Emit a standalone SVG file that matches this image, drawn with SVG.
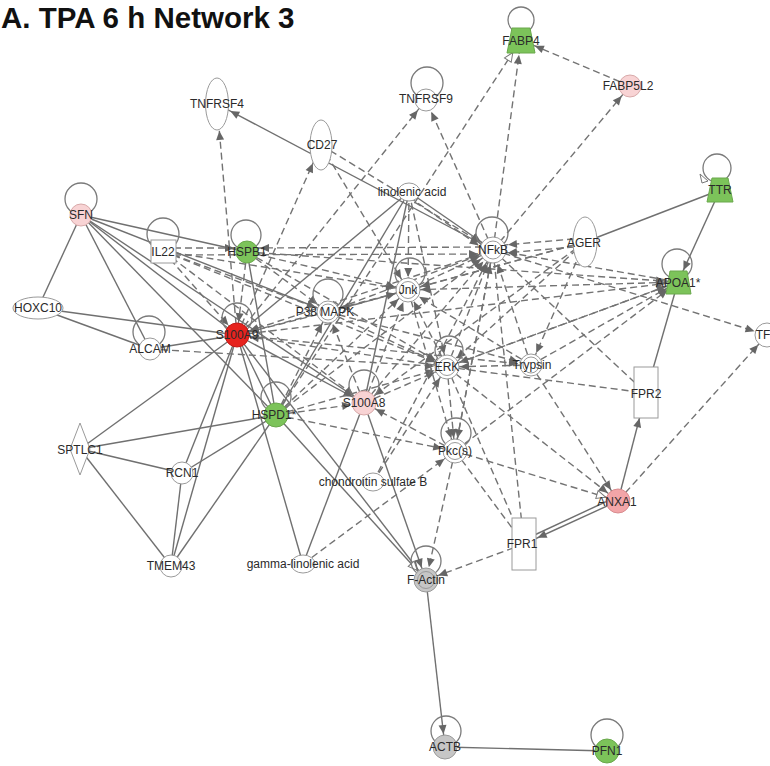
<svg xmlns="http://www.w3.org/2000/svg" width="770" height="766" viewBox="0 0 770 766">
<defs>
<style>
.s{stroke:#707070;stroke-width:1.4;fill:none}
.d{stroke:#737373;stroke-width:1.4;fill:none;stroke-dasharray:7 4}
.loop{fill:none;stroke:#7a7a7a;stroke-width:1.3}
.n{fill:#fff;stroke:#9a9a9a;stroke-width:1}
.g{fill:#7cc35a;stroke:#6aa84c;stroke-width:1}
.p{fill:#f8d3d4;stroke:#d8aaaa;stroke-width:1}
.p2{fill:#f2a5a8;stroke:#d88c8f;stroke-width:1}
.r{fill:#e6231e;stroke:#c41a16;stroke-width:1}
.gr{fill:#c6c6c6;stroke:#9a9a9a;stroke-width:1}
.in{fill:none;stroke:#9a9a9a;stroke-width:1}
.t{font-family:"Liberation Sans",Arial,sans-serif;font-size:12px;fill:#2a2a2a;text-anchor:middle;dominant-baseline:central}
</style>
<marker id="m13" markerUnits="userSpaceOnUse" markerWidth="10" markerHeight="8" refX="22" refY="4" orient="auto" overflow="visible"><path d="M0,0 L9,4 L0,8 z" fill="#666"/></marker>
<marker id="m14" markerUnits="userSpaceOnUse" markerWidth="10" markerHeight="8" refX="24" refY="4" orient="auto" overflow="visible"><path d="M0,0 L9,4 L0,8 z" fill="#666"/></marker>
<marker id="m20" markerUnits="userSpaceOnUse" markerWidth="10" markerHeight="8" refX="29" refY="4" orient="auto" overflow="visible"><path d="M0,0 L9,4 L0,8 z" fill="#666"/></marker>
<marker id="m26" markerUnits="userSpaceOnUse" markerWidth="10" markerHeight="8" refX="35" refY="4" orient="auto" overflow="visible"><path d="M0,0 L9,4 L0,8 z" fill="#666"/></marker>
<marker id="m27" markerUnits="userSpaceOnUse" markerWidth="10" markerHeight="8" refX="36" refY="4" orient="auto" overflow="visible"><path d="M0,0 L9,4 L0,8 z" fill="#666"/></marker>
<marker id="o13" markerUnits="userSpaceOnUse" markerWidth="10" markerHeight="8" refX="22" refY="4" orient="auto" overflow="visible"><path d="M0,0 L9,4 L0,8 z" fill="#fff" stroke="#777" stroke-width="1"/></marker>
<marker id="o14" markerUnits="userSpaceOnUse" markerWidth="10" markerHeight="8" refX="24" refY="4" orient="auto" overflow="visible"><path d="M0,0 L9,4 L0,8 z" fill="#fff" stroke="#777" stroke-width="1"/></marker>
</defs>
<rect width="770" height="766" fill="#fff"/>
<text x="1" y="28" font-family="Liberation Sans,Arial,sans-serif" font-weight="bold" font-size="29.5" fill="#111">A. TPA 6 h Network 3</text>

<g id="connectors">
<line class="s" x1="81" y1="215" x2="38" y2="308"/>
<line class="s" x1="81" y1="215" x2="150" y2="349"/>
<line class="s" x1="81" y1="215" x2="247" y2="252"/>
<line class="s" x1="81" y1="215" x2="328" y2="312"/>
<line class="s" x1="81" y1="215" x2="364" y2="403"/>
<line class="s" x1="81" y1="215" x2="237" y2="335"/>
<line class="s" x1="81" y1="215" x2="276" y2="415"/>
<line class="s" x1="38" y1="308" x2="237" y2="335"/>
<line class="s" x1="38" y1="308" x2="150" y2="349"/>
<line class="s" x1="150" y1="349" x2="237" y2="335"/>
<line class="s" x1="237" y1="335" x2="80" y2="449"/>
<line class="s" x1="237" y1="335" x2="182" y2="473"/>
<line class="s" x1="237" y1="335" x2="171" y2="566"/>
<line class="s" x1="237" y1="335" x2="276" y2="415"/>
<line class="s" x1="237" y1="335" x2="303" y2="564"/>
<line class="s" x1="237" y1="335" x2="426" y2="580" marker-end="url(#m13)"/>
<line class="s" x1="237" y1="335" x2="364" y2="403" marker-end="url(#m13)"/>
<line class="s" x1="237" y1="335" x2="409" y2="192"/>
<line class="s" x1="247" y1="252" x2="276" y2="415"/>
<line class="s" x1="80" y1="449" x2="276" y2="415"/>
<line class="s" x1="80" y1="449" x2="182" y2="473"/>
<line class="s" x1="80" y1="449" x2="171" y2="566"/>
<line class="s" x1="182" y1="473" x2="276" y2="415"/>
<line class="s" x1="182" y1="473" x2="171" y2="566"/>
<line class="s" x1="276" y1="415" x2="171" y2="566"/>
<line class="s" x1="276" y1="415" x2="426" y2="580" marker-end="url(#o13)"/>
<line class="s" x1="364" y1="403" x2="303" y2="564"/>
<line class="s" x1="364" y1="403" x2="426" y2="580" marker-end="url(#m13)"/>
<line class="s" x1="409" y1="192" x2="364" y2="403"/>
<line class="s" x1="409" y1="192" x2="276" y2="415"/>
<line class="s" x1="409" y1="192" x2="493" y2="250" marker-end="url(#m14)"/>
<line class="s" x1="493" y1="250" x2="217" y2="104" marker-end="url(#m14)"/>
<line class="s" x1="720" y1="190" x2="585" y2="242"/>
<line class="s" x1="720" y1="190" x2="678" y2="282" marker-end="url(#m13)"/>
<line class="s" x1="678" y1="282" x2="646" y2="393"/>
<line class="s" x1="618" y1="501" x2="646" y2="393" marker-end="url(#m26)"/>
<line class="s" x1="618" y1="501" x2="524" y2="544" marker-end="url(#m14)"/>
<line class="s" x1="616" y1="497" x2="528" y2="538"/>
<line class="s" x1="426" y1="580" x2="445" y2="747" marker-end="url(#m13)"/>
<line class="s" x1="445" y1="747" x2="607" y2="751"/>
<line class="d" x1="237" y1="335" x2="217" y2="104" marker-end="url(#m27)"/>
<line class="d" x1="237" y1="335" x2="321" y2="145" marker-end="url(#m20)"/>
<line class="d" x1="237" y1="335" x2="426" y2="100" marker-end="url(#m13)"/>
<line class="d" x1="493" y1="250" x2="426" y2="100" marker-end="url(#m13)"/>
<line class="d" x1="276" y1="415" x2="521" y2="40" marker-end="url(#o14)"/>
<line class="d" x1="493" y1="250" x2="521" y2="40" marker-end="url(#m14)"/>
<line class="d" x1="630" y1="86" x2="521" y2="40" marker-end="url(#m14)"/>
<line class="d" x1="493" y1="250" x2="630" y2="86" marker-end="url(#m13)"/>
<line class="d" x1="321" y1="145" x2="493" y2="250" marker-end="url(#m14)"/>
<line class="d" x1="409" y1="197" x2="491" y2="254" marker-end="url(#m14)"/>
<line class="d" x1="321" y1="145" x2="408" y2="290" marker-end="url(#m13)"/>
<line class="d" x1="409" y1="192" x2="408" y2="290" marker-end="url(#m13)"/>
<line class="d" x1="409" y1="192" x2="447" y2="367" marker-end="url(#m13)"/>
<line class="d" x1="163" y1="248" x2="247" y2="248" marker-end="url(#m13)"/>
<line class="d" x1="163" y1="255" x2="493" y2="254" marker-end="url(#m14)"/>
<line class="d" x1="493" y1="247" x2="247" y2="248" marker-end="url(#m13)"/>
<line class="d" x1="163" y1="251" x2="328" y2="312" marker-end="url(#m13)"/>
<line class="d" x1="163" y1="251" x2="408" y2="290" marker-end="url(#m13)"/>
<line class="d" x1="163" y1="251" x2="447" y2="367" marker-end="url(#m13)"/>
<line class="d" x1="163" y1="251" x2="237" y2="335" marker-end="url(#m13)"/>
<line class="d" x1="163" y1="251" x2="364" y2="403" marker-end="url(#m13)"/>
<line class="d" x1="247" y1="252" x2="328" y2="312" marker-end="url(#m13)"/>
<line class="d" x1="247" y1="252" x2="408" y2="290" marker-end="url(#m13)"/>
<line class="d" x1="247" y1="252" x2="447" y2="367" marker-end="url(#m13)"/>
<line class="d" x1="247" y1="252" x2="678" y2="282" marker-end="url(#m13)"/>
<line class="d" x1="247" y1="252" x2="237" y2="335" marker-end="url(#m13)"/>
<line class="d" x1="408" y1="290" x2="237" y2="335" marker-end="url(#m13)"/>
<line class="d" x1="328" y1="312" x2="237" y2="335" marker-end="url(#m13)"/>
<line class="d" x1="493" y1="250" x2="237" y2="335" marker-end="url(#m13)"/>
<line class="d" x1="447" y1="367" x2="237" y2="335" marker-end="url(#m13)"/>
<line class="d" x1="237" y1="335" x2="678" y2="282" marker-end="url(#m13)"/>
<line class="d" x1="237" y1="335" x2="531" y2="365" marker-end="url(#m13)"/>
<line class="d" x1="150" y1="349" x2="447" y2="367" marker-end="url(#m13)"/>
<line class="d" x1="585" y1="238" x2="493" y2="246" marker-end="url(#m14)"/>
<line class="d" x1="585" y1="246" x2="493" y2="254" marker-end="url(#m14)"/>
<line class="d" x1="585" y1="242" x2="408" y2="290" marker-end="url(#m13)"/>
<line class="d" x1="585" y1="242" x2="328" y2="312" marker-end="url(#m13)"/>
<line class="d" x1="585" y1="242" x2="447" y2="367" marker-end="url(#m13)"/>
<line class="d" x1="585" y1="242" x2="364" y2="403" marker-end="url(#m13)"/>
<line class="d" x1="585" y1="242" x2="531" y2="365" marker-end="url(#m13)"/>
<line class="d" x1="678" y1="282" x2="493" y2="250" marker-end="url(#m14)"/>
<line class="d" x1="678" y1="282" x2="408" y2="290" marker-end="url(#m13)"/>
<line class="d" x1="678" y1="282" x2="447" y2="367" marker-end="url(#m13)"/>
<line class="d" x1="493" y1="250" x2="767" y2="335" marker-end="url(#m13)"/>
<line class="d" x1="618" y1="501" x2="767" y2="335" marker-end="url(#m13)"/>
<line class="d" x1="531" y1="365" x2="678" y2="282" marker-end="url(#m13)"/>
<line class="d" x1="455" y1="451" x2="678" y2="282" marker-end="url(#m13)"/>
<line class="d" x1="447" y1="367" x2="678" y2="282" marker-end="url(#m13)"/>
<line class="d" x1="531" y1="365" x2="618" y2="501" marker-end="url(#m13)"/>
<line class="d" x1="447" y1="367" x2="618" y2="501" marker-end="url(#m13)"/>
<line class="d" x1="455" y1="451" x2="618" y2="501" marker-end="url(#o13)"/>
<line class="d" x1="493" y1="250" x2="646" y2="393"/>
<line class="d" x1="447" y1="367" x2="646" y2="393"/>
<line class="d" x1="531" y1="365" x2="493" y2="250" marker-end="url(#m14)"/>
<line class="d" x1="531" y1="365" x2="408" y2="290" marker-end="url(#m13)"/>
<line class="d" x1="531" y1="365" x2="447" y2="367" marker-end="url(#m13)"/>
<line class="d" x1="328" y1="312" x2="531" y2="365" marker-end="url(#m13)"/>
<line class="d" x1="276" y1="415" x2="328" y2="312" marker-end="url(#m13)"/>
<line class="d" x1="276" y1="415" x2="408" y2="290" marker-end="url(#m13)"/>
<line class="d" x1="276" y1="415" x2="447" y2="367" marker-end="url(#m13)"/>
<line class="d" x1="276" y1="415" x2="493" y2="250" marker-end="url(#m14)"/>
<line class="d" x1="276" y1="415" x2="455" y2="451" marker-end="url(#m13)"/>
<line class="d" x1="276" y1="415" x2="364" y2="403" marker-end="url(#m13)"/>
<line class="d" x1="364" y1="403" x2="408" y2="290" marker-end="url(#m13)"/>
<line class="d" x1="364" y1="403" x2="447" y2="367" marker-end="url(#m13)"/>
<line class="d" x1="364" y1="403" x2="493" y2="250" marker-end="url(#m14)"/>
<line class="d" x1="364" y1="403" x2="328" y2="312" marker-end="url(#m13)"/>
<line class="d" x1="455" y1="451" x2="364" y2="403" marker-end="url(#m13)"/>
<line class="d" x1="447" y1="367" x2="455" y2="451" marker-end="url(#m13)"/>
<line class="d" x1="408" y1="290" x2="455" y2="451" marker-end="url(#m13)"/>
<line class="d" x1="493" y1="250" x2="455" y2="451" marker-end="url(#m13)"/>
<line class="d" x1="303" y1="564" x2="455" y2="451" marker-end="url(#m13)"/>
<line class="d" x1="373" y1="482" x2="447" y2="367" marker-end="url(#m13)"/>
<line class="d" x1="373" y1="482" x2="493" y2="250" marker-end="url(#m14)"/>
<line class="d" x1="455" y1="451" x2="426" y2="580" marker-end="url(#m13)"/>
<line class="d" x1="524" y1="544" x2="426" y2="580" marker-end="url(#m13)"/>
<line class="d" x1="447" y1="367" x2="524" y2="544"/>
<line class="d" x1="455" y1="451" x2="524" y2="544"/>
<line class="d" x1="493" y1="250" x2="524" y2="544"/>
<line class="d" x1="328" y1="312" x2="408" y2="290" marker-end="url(#m13)"/>
<line class="d" x1="328" y1="312" x2="493" y2="250" marker-end="url(#m14)"/>
<line class="d" x1="328" y1="312" x2="447" y2="367" marker-end="url(#m13)"/>
<line class="d" x1="408" y1="290" x2="493" y2="250" marker-end="url(#m14)"/>
<line class="d" x1="447" y1="367" x2="493" y2="250" marker-end="url(#m14)"/>
<line class="d" x1="455" y1="451" x2="493" y2="250" marker-end="url(#m14)"/>
<line class="d" x1="447" y1="367" x2="408" y2="290" marker-end="url(#m13)"/>
</g>

<g id="FABP4"><circle class="loop" cx="521" cy="20" r="13"/><polygon class="g" points="512,28 530,28 535,53 507,53"/><text class="t" x="521" y="41">FABP4</text></g>
<g id="FABP5L2"><circle class="p" cx="630" cy="86" r="11"/><text class="t" x="628" y="86">FABP5L2</text></g>
<g id="TNFRSF4"><ellipse class="n" cx="217" cy="104" rx="11.5" ry="26"/><text class="t" x="217" y="104">TNFRSF4</text></g>
<g id="TNFRSF9"><circle class="loop" cx="427" cy="83" r="16"/><circle class="n" cx="426" cy="100" r="11"/><text class="t" x="426" y="99">TNFRSF9</text></g>
<g id="CD27"><ellipse class="n" cx="321" cy="145" rx="11" ry="25"/><text class="t" x="322" y="145">CD27</text></g>
<g id="linolenic_acid"><ellipse class="n" cx="409" cy="192" rx="11" ry="9"/><text class="t" x="412" y="192">linolenic acid</text></g>
<g id="TTR"><circle class="loop" cx="717" cy="168" r="14"/><path d="M700,174 L708,181 L702,183 z" fill="#fff" stroke="#777" stroke-width="1"/><polygon class="g" points="712,178 728,178 733,202 707,202"/><text class="t" x="720" y="190">TTR</text></g>
<g id="SFN"><circle class="loop" cx="81" cy="199" r="16"/><circle class="p" cx="81" cy="215" r="11"/><text class="t" x="81" y="215">SFN</text></g>
<g id="IL22"><circle class="loop" cx="163" cy="234" r="16"/><rect class="n" x="151" y="240" width="25" height="23"/><text class="t" x="163" y="252">IL22</text></g>
<g id="HSPB1"><circle class="loop" cx="246" cy="235" r="15"/><circle class="g" cx="247" cy="252" r="11"/><text class="t" x="247" y="252">HSPB1</text></g>
<g id="NFkB"><circle class="loop" cx="492" cy="233" r="16"/><circle class="n" cx="493" cy="250" r="13"/><circle class="in" cx="493" cy="250" r="9"/><text class="t" x="493" y="250">NFkB</text></g>
<g id="AGER"><ellipse class="n" cx="585" cy="242" rx="12" ry="25"/><text class="t" x="584" y="243">AGER</text></g>
<g id="APOA1"><circle class="loop" cx="677" cy="264" r="15"/><polygon class="g" points="670,271 687,271 691,294 666,294"/><text class="t" x="678" y="283">APOA1*</text></g>
<g id="Jnk"><circle class="loop" cx="410" cy="273" r="15"/><circle class="n" cx="408" cy="290" r="12"/><circle class="in" cx="408" cy="290" r="8.5"/><text class="t" x="408" y="290">Jnk</text></g>
<g id="P38_MAPK"><circle class="loop" cx="328" cy="294" r="15"/><circle class="n" cx="328" cy="312" r="11"/><circle class="in" cx="328" cy="312" r="8"/><text class="t" x="325" y="312">P38 MAPK</text></g>
<g id="HOXC10"><ellipse class="n" cx="38" cy="308" rx="25" ry="11"/><text class="t" x="38" y="308">HOXC10</text></g>
<g id="ALCAM"><circle class="loop" cx="149" cy="332" r="16"/><circle class="n" cx="150" cy="349" r="11"/><text class="t" x="150" y="349">ALCAM</text></g>
<g id="S100A9"><circle class="loop" cx="237" cy="318" r="15"/><circle class="r" cx="237" cy="335" r="12"/><text class="t" x="237" y="335">S100A9</text></g>
<g id="TF"><circle class="n" cx="767" cy="335" r="12"/><text class="t" x="763" y="335">TF</text></g>
<g id="ERK"><circle class="loop" cx="449" cy="350" r="14"/><circle class="n" cx="447" cy="367" r="12"/><circle class="in" cx="447" cy="367" r="8.5"/><text class="t" x="447" y="367">ERK</text></g>
<g id="Trypsin"><circle class="n" cx="531" cy="365" r="11"/><circle class="in" cx="531" cy="365" r="8"/><text class="t" x="532" y="365">Trypsin</text></g>
<g id="FPR2"><rect class="n" x="634" y="367" width="24" height="51"/><text class="t" x="646" y="394">FPR2</text></g>
<g id="S100A8"><circle class="loop" cx="364" cy="385" r="15"/><circle class="p" cx="364" cy="403" r="12"/><text class="t" x="364" y="403">S100A8</text></g>
<g id="HSPD1"><circle class="loop" cx="276" cy="397" r="15"/><circle class="g" cx="276" cy="415" r="12"/><text class="t" x="274" y="415">HSPD1*</text></g>
<g id="SPTLC1"><polygon class="n" points="80,423 90,449 80,475 70,449"/><text class="t" x="80" y="450">SPTLC1</text></g>
<g id="RCN1"><circle class="n" cx="182" cy="473" r="11"/><text class="t" x="182" y="473">RCN1</text></g>
<g id="Pkc_s"><circle class="loop" cx="456" cy="433" r="15"/><circle class="n" cx="455" cy="451" r="12"/><circle class="in" cx="455" cy="451" r="8.5"/><text class="t" x="455" y="451">Pkc(s)</text></g>
<g id="chondroitin_sulfate_B"><ellipse class="n" cx="373" cy="482" rx="11" ry="9"/><text class="t" x="373" y="482">chondroitin sulfate B</text></g>
<g id="ANXA1"><circle class="p2" cx="618" cy="501" r="12"/><text class="t" x="617" y="502">ANXA1</text></g>
<g id="FPR1"><rect class="n" x="512" y="518" width="24" height="52"/><text class="t" x="522" y="544">FPR1</text></g>
<g id="TMEM43"><circle class="n" cx="171" cy="566" r="11"/><text class="t" x="171" y="566">TMEM43</text></g>
<g id="gamma_linolenic_acid"><ellipse class="n" cx="303" cy="564" rx="12" ry="9"/><text class="t" x="303" y="564">gamma-linolenic acid</text></g>
<g id="F_Actin"><circle class="loop" cx="426" cy="561" r="15"/><circle class="gr" cx="426" cy="580" r="12"/><circle class="in" cx="426" cy="580" r="8.5"/><text class="t" x="426" y="580">F-Actin</text></g>
<g id="ACTB"><circle class="loop" cx="446" cy="731" r="15"/><circle class="gr" cx="445" cy="747" r="12"/><text class="t" x="445" y="747">ACTB</text></g>
<g id="PFN1"><circle class="loop" cx="607" cy="735" r="16"/><circle class="g" cx="607" cy="751" r="12"/><text class="t" x="607" y="751">PFN1</text></g>
</svg>
